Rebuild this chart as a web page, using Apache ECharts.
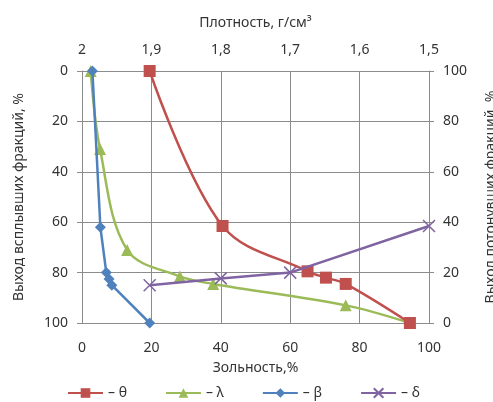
<!DOCTYPE html>
<html><head><meta charset="utf-8">
<script src="https://cdn.jsdelivr.net/npm/echarts@6/dist/echarts.min.js"></script>
<style>html,body{margin:0;padding:0;background:#fff}#c{width:493px;height:402px}</style>
</head><body><div id="c"></div>
<script>
var seriesNames = ['– θ', '– λ', '– β', '– δ'];
var thetaX = [19.5, 40.5, 65, 70.3, 76, 94.5];
var thetaY = [0, 61.5, 79.5, 82, 84.5, 100];
var lambdaX = [2.5, 5.2, 13, 28.2, 37.8, 76, 94.5];
var lambdaY = [0, 31, 71, 81.5, 84.5, 93, 100];
var betaX = [3, 5.3, 7, 7.8, 8.6, 19.5];
var betaY = [0, 62, 80, 82.5, 85, 100];
var deltaX = [19.5, 40, 60, 100];
var deltaY = [15, 17.7, 20, 38.5];
var densityTicks = [1.5, 1.6, 1.7, 1.8, 1.9, 2.0];

function pairs(xs, ys){ return xs.map(function(x,i){ return [x, ys[i]]; }); }
var FONT = 'Noto Sans';
var txt = {color:'#333333', fontFamily: FONT, fontSize: 14};
var gridColor = '#8c8c8c';
var chart = echarts.init(document.getElementById('c'));
chart.setOption({
  animation:false,
  textStyle:{fontFamily: FONT},
  grid:{left:82, right:64, top:71, bottom:79, outerBoundsMode:'none', containLabel:false},
  legend:{
    top:381, left:62, itemWidth:35, itemHeight:12, itemGap:38,
    textStyle:{color:'#333333', fontFamily:FONT, fontSize:14},
    data: seriesNames
  },
  xAxis:[{
    type:'value', min:0, max:100, interval:20, position:'bottom',
    name:'Зольность,%', nameLocation:'middle', nameGap:38,
    nameTextStyle:txt,
    axisLine:{lineStyle:{color:gridColor}},
    axisTick:{show:false},
    axisLabel:Object.assign({margin:18}, txt),
    splitLine:{show:true, lineStyle:{color:gridColor, width:1}}
  },{
    type:'value', min:densityTicks[0], max:densityTicks[densityTicks.length-1], interval:0.1,
    position:'top', inverse:true,
    name:'Плотность, г/см³', nameLocation:'middle', nameGap:41,
    nameTextStyle:txt,
    axisLine:{show:true, lineStyle:{color:gridColor}},
    axisTick:{show:true, length:4, lineStyle:{color:gridColor}},
    axisLabel:Object.assign({margin:14, formatter:function(v){
      var s = (Math.round(v*10)/10).toString(); return s.replace('.', ',');
    }}, txt),
    splitLine:{show:false}
  }],
  yAxis:[{
    type:'value', min:0, max:100, interval:20, inverse:true, position:'left',
    name:'Выход всплывших фракций, %', nameLocation:'middle', nameGap:56, nameRotate:90,
    nameTextStyle:txt,
    axisLine:{show:true, lineStyle:{color:gridColor}},
    axisTick:{show:true, length:5, lineStyle:{color:gridColor}},
    axisLabel:Object.assign({margin:14}, txt),
    splitLine:{show:true, lineStyle:{color:gridColor, width:1}}
  },{
    type:'value', min:0, max:100, interval:20, position:'right',
    name:'Выход потонувших фракций, %', nameLocation:'middle', nameGap:55, nameRotate:90,
    nameTextStyle:txt,
    axisLine:{show:true, lineStyle:{color:gridColor}},
    axisTick:{show:true, length:5, lineStyle:{color:gridColor}},
    axisLabel:Object.assign({margin:14}, txt),
    splitLine:{show:false}
  }],
  series:[{
    name:seriesNames[0], type:'line', data:pairs(thetaX, thetaY), smooth:0.35,
    symbol:'rect', symbolSize:12, xAxisIndex:0, yAxisIndex:0,
    lineStyle:{color:'#C0504D', width:2.5}, itemStyle:{color:'#C0504D'}, z:3
  },{
    name:seriesNames[1], type:'line', data:pairs(lambdaX, lambdaY), smooth:0.35,
    symbol:'triangle', symbolSize:12, xAxisIndex:0, yAxisIndex:0,
    lineStyle:{color:'#9BBB59', width:2.5}, itemStyle:{color:'#9BBB59'}, z:2
  },{
    name:seriesNames[2], type:'line', data:pairs(betaX, betaY), smooth:false,
    symbol:'diamond', symbolSize:11, xAxisIndex:0, yAxisIndex:0,
    lineStyle:{color:'#4F81BD', width:2.5}, itemStyle:{color:'#4F81BD'}, z:4
  },{
    name:seriesNames[3], type:'line', data:pairs(deltaX, deltaY), smooth:false,
    symbol:'path://M0,0L10,10M10,0L0,10', symbolSize:12, xAxisIndex:0, yAxisIndex:1,
    lineStyle:{color:'#8064A2', width:2.5},
    itemStyle:{color:'#8064A2', borderColor:'#8064A2', borderWidth:1.5}, z:5
  }]
});
</script></body></html>
